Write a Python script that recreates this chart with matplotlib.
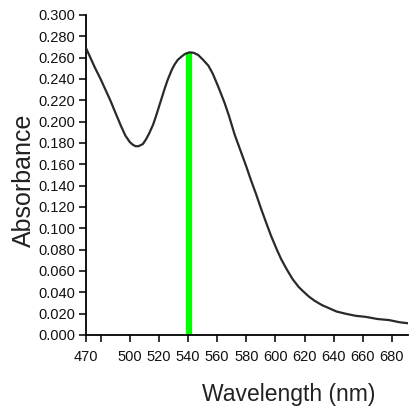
import matplotlib
matplotlib.use("Agg")
import matplotlib.pyplot as plt

wavelength = [470, 473, 476, 480, 483, 487, 490, 494, 497, 500, 502, 504, 506, 509,
              511, 513, 516, 518, 521, 524, 526, 529, 531, 533, 536, 538, 541, 544,
              547, 550, 554, 557, 561, 565, 568, 572, 576, 580, 583, 587, 590, 594,
              597, 601, 604, 608, 612, 616, 619, 623, 627, 632, 637, 642, 648, 655,
              662, 670, 678, 685, 691]
absorbance = [0.269, 0.260, 0.251, 0.240, 0.231, 0.219, 0.209, 0.196, 0.187, 0.181,
              0.1785, 0.177, 0.177, 0.179, 0.183, 0.188, 0.197, 0.205, 0.218, 0.231,
              0.239, 0.249, 0.254, 0.258, 0.2615, 0.2635, 0.265, 0.2645, 0.2625, 0.2585,
              0.2525, 0.245, 0.232, 0.218, 0.206, 0.188, 0.173, 0.158, 0.146, 0.131,
              0.119, 0.104, 0.093, 0.080, 0.071, 0.061, 0.052, 0.045, 0.041, 0.036,
              0.032, 0.028, 0.025, 0.022, 0.020, 0.018, 0.017, 0.015, 0.014, 0.012, 0.011]
marker_wavelength = 541
marker_top = 0.265
x_ticks = [470, 480, 500, 520, 540, 560, 580, 600, 620, 640, 660, 680]
x_labels = ["470", "", "500", "520", "540", "560", "580", "600", "620", "640", "660", "680"]
y_ticks = [i * 0.02 for i in range(16)]

plt.rcParams['font.family'] = ['Liberation Sans Narrow', 'Liberation Sans', 'DejaVu Sans']

fig = plt.figure(figsize=(4.10, 4.13), dpi=100)
ax = fig.add_axes([86/410, 78/413, 322/410, 320/413])

ax.vlines(marker_wavelength, 0, marker_top, color='#00ff00', linewidth=4.5, zorder=2)
ax.plot(wavelength, absorbance, color='#2a2a2a', linewidth=1.6, zorder=3,
        solid_joinstyle='round', solid_capstyle='round')

ax.set_xlim(470, 691)
ax.set_ylim(0, 0.3)
ax.set_xticks(x_ticks)
ax.set_xticklabels(x_labels)
ax.set_yticks(y_ticks)
ax.set_yticklabels([f"{v:.3f}" for v in y_ticks])
ax.tick_params(direction='out', length=5, width=1.2, labelsize=10.5, colors='#111111')
ax.tick_params(axis='y', pad=3)
ax.tick_params(axis='x', pad=6)

for s in ['top', 'right']:
    ax.spines[s].set_visible(False)
for s in ['left', 'bottom']:
    ax.spines[s].set_linewidth(1.3)

fig.text(289/410, 1 - 395/413, "Wavelength (nm)", fontsize=16.5, ha='center', va='center',
         family=['Liberation Sans', 'DejaVu Sans'], color='#222222')
fig.text(24/410, 1 - 180/413, "Absorbance", fontsize=18, ha='center', va='center',
         rotation=90, family=['Liberation Sans', 'DejaVu Sans'], color='#222222')

fig.savefig("out.png", dpi=100)
